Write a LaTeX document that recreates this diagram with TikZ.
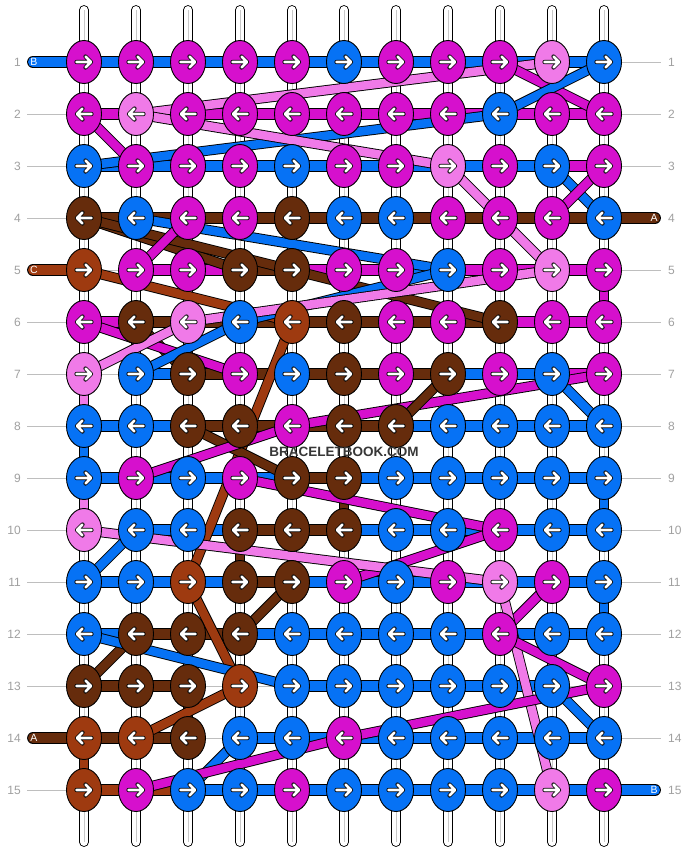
\documentclass[tikz,border=0pt]{standalone}
\usepackage{fontspec}
\setmainfont{Liberation Sans}
\usetikzlibrary{shapes.geometric}
\pgfdeclarelayer{paper}
\pgfdeclarelayer{bg}
\pgfsetlayers{paper,bg,main}
\definecolor{cM}{RGB}{214,16,205}
\definecolor{cP}{RGB}{240,122,232}
\definecolor{cB}{RGB}{6,114,245}
\definecolor{cD}{RGB}{102,44,12}
\definecolor{cR}{RGB}{158,58,16}
\definecolor{guide}{RGB}{190,190,190}
\definecolor{numgray}{RGB}{160,160,160}
\definecolor{tubegray}{RGB}{200,200,200}
\definecolor{wmgray}{RGB}{55,55,55}
\tikzset{
  knot/.style={ellipse, draw=black, line width=0.9pt, minimum width=35pt, minimum height=43pt, inner sep=0pt},
  rowstrand/.style={draw=black, line width=0.9pt, double=#1, double distance=10pt},
  diagstrand/.style={draw=black, line width=0.9pt, double=#1, double distance=8.5pt},
  arrowline/.style={line cap=round, line join=round},
  rarrow/.pic={
    \draw[arrowline, black, line width=4.2pt] (-7.5,0) -- (7,0) (1.5,-5.5) -- (7,0) -- (1.5,5.5);
    \draw[arrowline, white, line width=2.6pt] (-7.5,0) -- (7,0) (1.5,-5.5) -- (7,0) -- (1.5,5.5);
  },
  larrow/.pic={
    \draw[arrowline, black, line width=4.2pt] (7.5,0) -- (-7,0) (-1.5,-5.5) -- (-7,0) -- (-1.5,5.5);
    \draw[arrowline, white, line width=2.6pt] (7.5,0) -- (-7,0) (-1.5,-5.5) -- (-7,0) -- (-1.5,5.5);
  },
  tube/.style={draw=black, line width=0.9pt, double=white, double distance=8pt, line cap=round},
  tubecore/.style={draw=tubegray, line width=0.8pt},
  guideline/.style={draw=guide, line width=0.9pt},
  rownum/.style={text=numgray, font=\fontsize{12}{14}\selectfont, inner sep=0pt},
  endlabel/.style={text=white, font=\fontsize{10.5}{12}\selectfont, inner sep=0pt},
  watermark/.style={text=wmgray, font=\fontsize{13.5}{15}\selectfont\bfseries, inner sep=0pt},
}
\begin{document}
\begin{tikzpicture}[x=1pt,y=-1pt]
\useasboundingbox (0,0) rectangle (688,852);
\begin{pgfonlayer}{paper}
\fill[white] (0,0) rectangle (688,852);
\end{pgfonlayer}

% knots
\foreach \cols [count=\r] in {
  {M,M,M,M,M,B,M,M,M,P,B},
  {M,P,M,M,M,M,M,M,B,M,M},
  {B,M,M,M,B,M,M,P,M,B,M},
  {D,B,M,M,D,B,B,M,M,M,B},
  {R,M,M,D,D,M,M,B,M,P,M},
  {M,D,P,B,R,D,M,M,D,M,M},
  {P,B,D,M,B,D,M,D,M,B,M},
  {B,B,D,D,M,D,D,B,B,B,B},
  {B,M,B,M,D,D,B,B,B,B,B},
  {P,B,B,D,D,D,B,B,M,B,B},
  {B,B,R,D,D,M,B,M,P,M,B},
  {B,D,D,D,B,B,B,B,M,B,B},
  {D,D,D,R,B,B,B,B,B,B,M},
  {R,R,D,B,B,M,B,B,B,B,B},
  {R,M,B,B,M,B,B,B,B,P,M}}{
  \foreach \k [count=\c] in \cols {
    \node[knot, fill=c\k] (k-\r-\c) at ({84+52*(\c-1)},{62+52*(\r-1)}) {};
    \ifodd\r \pic at (k-\r-\c) {rarrow}; \else \pic at (k-\r-\c) {larrow}; \fi
  }
}

\node[watermark] (wm) at (344,452) {BRACELETBOOK.COM};

\begin{pgfonlayer}{bg}
% guide lines and row numbers
\foreach \r in {1,...,15} {
  \coordinate (gl-\r) at (27,{62+52*(\r-1)});
  \coordinate (gr-\r) at (661,{62+52*(\r-1)});
  \draw[guideline] (gl-\r) -- (gr-\r);
  \node[rownum, anchor=east] (nl-\r) at (21,{62+52*(\r-1)}) {\r};
  \node[rownum, anchor=west] (nr-\r) at (668,{62+52*(\r-1)}) {\r};
}
% white tubes
\foreach \c in {1,...,11} {
  \coordinate (tt-\c) at ({84+52*(\c-1)},10);
  \coordinate (tb-\c) at ({84+52*(\c-1)},842);
  \draw[tube] (tt-\c) -- (tb-\c);
  \draw[tubecore] (tt-\c) -- (tb-\c);
}
% side strands
\coordinate (sl-1) at (33,62);
\coordinate (sl-5) at (33,270);
\coordinate (sl-14) at (33,738);
\coordinate (sr-4) at (655,218);
\coordinate (sr-15) at (655,790);
\draw[rowstrand=cB, line cap=round] (sl-1) -- (k-1-1.center);
\draw[rowstrand=cR, line cap=round] (sl-5) -- (k-5-1.center);
\draw[rowstrand=cD, line cap=round] (sl-14) -- (k-14-1.center);
\draw[rowstrand=cD, line cap=round] (sr-4) -- (k-4-11.center);
\draw[rowstrand=cB, line cap=round] (sr-15) -- (k-15-11.center);
\node[endlabel] (el-1) at (34,62) {B};
\node[endlabel] (el-5) at (34,270) {C};
\node[endlabel] (el-14) at (34,738) {A};
\node[endlabel] (er-4) at (654,218) {A};
\node[endlabel] (er-15) at (654,790) {B};

% horizontal strands in each row (x = none)
\foreach \segs [count=\r] in {
  {B,B,B,B,B,B,B,B,B,B},
  {M,M,M,M,M,M,M,M,M,M},
  {B,B,B,B,B,B,B,B,B,M},
  {D,D,D,D,D,D,D,D,D,D},
  {x,M,M,D,M,M,B,M,M,M},
  {M,D,D,D,D,D,D,D,M,M},
  {x,B,D,D,D,D,D,B,B,M},
  {B,B,D,D,D,D,B,B,B,B},
  {B,B,B,B,D,B,B,B,B,B},
  {x,B,B,D,D,B,B,B,B,B},
  {B,B,B,D,B,B,B,B,B,B},
  {B,D,D,B,B,B,B,B,B,B},
  {D,D,x,x,B,B,B,B,B,x},
  {D,D,x,B,B,B,B,B,B,B},
  {R,R,B,B,B,B,B,B,B,B}}{
  \foreach \s [count=\c] in \segs {
    \if\s x\else
      \pgfmathtruncatemacro\cn{\c+1}
      \draw[rowstrand=c\s] (k-\r-\c.center) -- (k-\r-\cn.center);
    \fi
  }
}
% vertical strands
\foreach \r/\c/\s in {7/1/P, 8/1/B, 9/1/P, 5/11/M, 9/11/B, 11/11/B, 9/6/D, 10/4/D, 13/3/D, 14/1/R} {
  \pgfmathtruncatemacro\rn{\r+1}
  \draw[diagstrand=c\s] (k-\r-\c.center) -- (k-\rn-\c.center);
}
% diagonal strands
\foreach \ra/\ca/\rb/\cb/\s in {1/10/2/2/P, 1/9/2/11/M, 1/11/2/9/B, 2/1/3/2/M, 2/9/3/1/B, 2/2/3/8/P,
  3/10/4/11/B, 3/11/4/10/M, 3/8/5/10/P, 4/1/5/4/D, 4/1/6/9/D, 4/2/5/8/B, 4/3/5/2/M,
  5/1/6/5/R, 5/8/6/4/B, 5/10/6/3/P, 6/2/7/3/D, 6/1/7/4/M, 6/4/7/2/B, 6/3/7/1/P,
  6/5/11/3/R, 7/10/8/11/B, 8/5/7/11/M, 8/7/7/8/D, 8/3/9/5/D, 9/2/8/5/M, 9/4/10/9/M,
  10/9/11/6/M, 10/1/11/9/P, 10/2/11/1/B, 11/5/12/4/D, 11/3/13/4/R, 11/10/12/9/M,
  11/9/15/10/P, 12/2/13/1/D, 12/1/13/5/B, 12/9/13/11/M, 13/4/14/2/R, 13/10/14/11/B,
  14/6/13/11/M, 14/4/15/3/B, 15/2/14/6/M} {
  \draw[diagstrand=c\s] (k-\ra-\ca.center) -- (k-\rb-\cb.center);
}
\end{pgfonlayer}
\end{tikzpicture}
\end{document}
